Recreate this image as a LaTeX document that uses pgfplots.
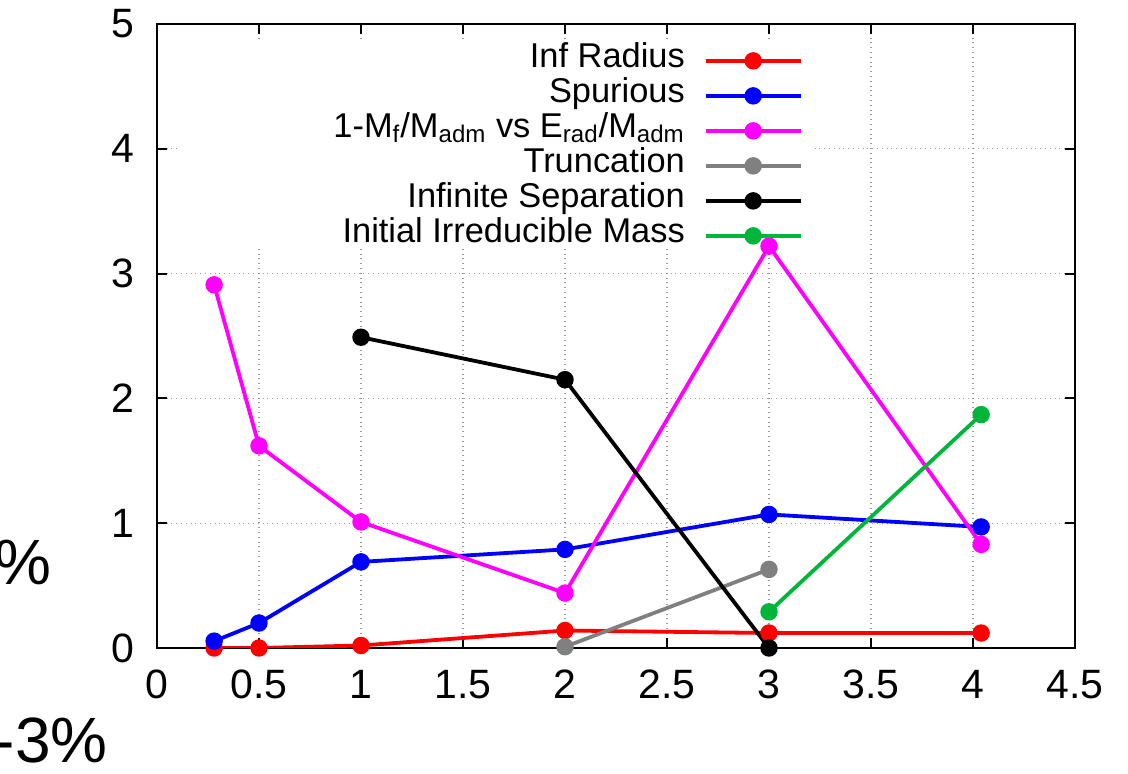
\documentclass[border=0pt]{standalone}
\usepackage{fontspec}
\setmainfont{Liberation Sans}
\usepackage{pgfplots}
\pgfplotsset{compat=1.18}
\definecolor{gpgreen}{RGB}{0,182,58}
\definecolor{gpgray}{RGB}{128,128,128}
\definecolor{gpmag}{RGB}{255,0,255}
\definecolor{gpred}{RGB}{255,0,0}
\definecolor{gpblue}{RGB}{0,0,255}
\begin{document}
\fontsize{17.7}{20}\selectfont
\begin{tikzpicture}
\begin{axis}[name=ax, scale only axis, width=459pt, height=312pt,
  xmin=0, xmax=4.5, ymin=0, ymax=5,
  xtick={0,0.5,1,1.5,2,2.5,3,3.5,4,4.5},
  ytick={0,1,2,3,4,5},
  /pgf/number format/assume math mode=true,
  tick label style={font=\fontsize{20.5}{24}\selectfont},
  xticklabel style={yshift=-5pt},
  yticklabel style={xshift=-5pt},
  tick align=inside, major tick length=5pt,
  axis line style={line width=1.2pt},
  every tick/.style={black, line width=1pt},
  grid=major,
  grid style={dotted, gray!80, line width=0.6pt},
  legend plot pos=right,
  legend cell align=right,
  legend image code/.code={\draw[mark repeat=2, mark phase=2] plot coordinates {(0pt,0pt) (23.75pt,0pt) (47.5pt,0pt)};},
  legend style={at={(axis description cs:0.7037,0.9696)}, anchor=north east,
    draw=none, fill=none, inner sep=0pt, font=\fontsize{17.2}{20}\selectfont,
    row sep=0pt, /tikz/column sep=9.5pt,
    nodes={inner xsep=0pt, inner ysep=0pt, text height=12pt, text depth=5.5pt}},
  every axis plot/.append style={line width=1.9pt, mark=*, mark size=3.4pt, mark options={solid}},
]
\fill[white] (axis cs:0.11,3.23) rectangle (axis cs:3.21,4.88);
\addplot[gpred, mark options={fill=gpred, draw=gpred}] coordinates {(0.28,0) (0.5,0) (1,0.02) (2,0.14) (3,0.12) (4.04,0.12)};
\addlegendentry{Inf Radius}
\addplot[gpblue, mark options={fill=gpblue, draw=gpblue}] coordinates {(0.28,0.055) (0.5,0.2) (1,0.69) (2,0.79) (3,1.07) (4.04,0.97)};
\addlegendentry{Spurious}
\addplot[gpmag, mark options={fill=gpmag, draw=gpmag}] coordinates {(0.28,2.91) (0.5,1.62) (1,1.01) (2,0.44) (3,3.22) (4.04,0.83)};
\addlegendentry{1-M\textsubscript{f}/M\textsubscript{adm} vs E\textsubscript{rad}/M\textsubscript{adm}}
\addplot[gpgray, mark options={fill=gpgray, draw=gpgray}] coordinates {(2,0.01) (3,0.63)};
\addlegendentry{Truncation}
\addplot[black, mark options={fill=black, draw=black}] coordinates {(1,2.49) (2,2.15) (3,0)};
\addlegendentry{Infinite Separation}
\addplot[gpgreen, mark options={fill=gpgreen, draw=gpgreen}] coordinates {(3,0.29) (4.04,1.87)};
\addlegendentry{Initial Irreducible Mass}
\node[rotate=90, anchor=center, font=\fontsize{17.7}{20}\selectfont] at (axis description cs:-0.133,0.5) {\% Error};
\node[anchor=center, font=\fontsize{17.7}{20}\selectfont] at (axis description cs:0.461,-0.155) {p/m};
\end{axis}
\node[anchor=east, inner sep=0pt, font=\fontsize{32}{36}\selectfont] at ([shift={(-52.5pt,43pt)}]ax.south west) {\%};
\node[anchor=east, inner sep=0pt, font=\fontsize{32}{36}\selectfont] at ([shift={(-24.5pt,-46pt)}]ax.south west) {-3\%};
\pgfresetboundingbox
\path ([shift={(-78.5pt,-63pt)}]ax.south west) rectangle ([shift={(26.5pt,12pt)}]ax.north east);
\end{tikzpicture}
\end{document}
